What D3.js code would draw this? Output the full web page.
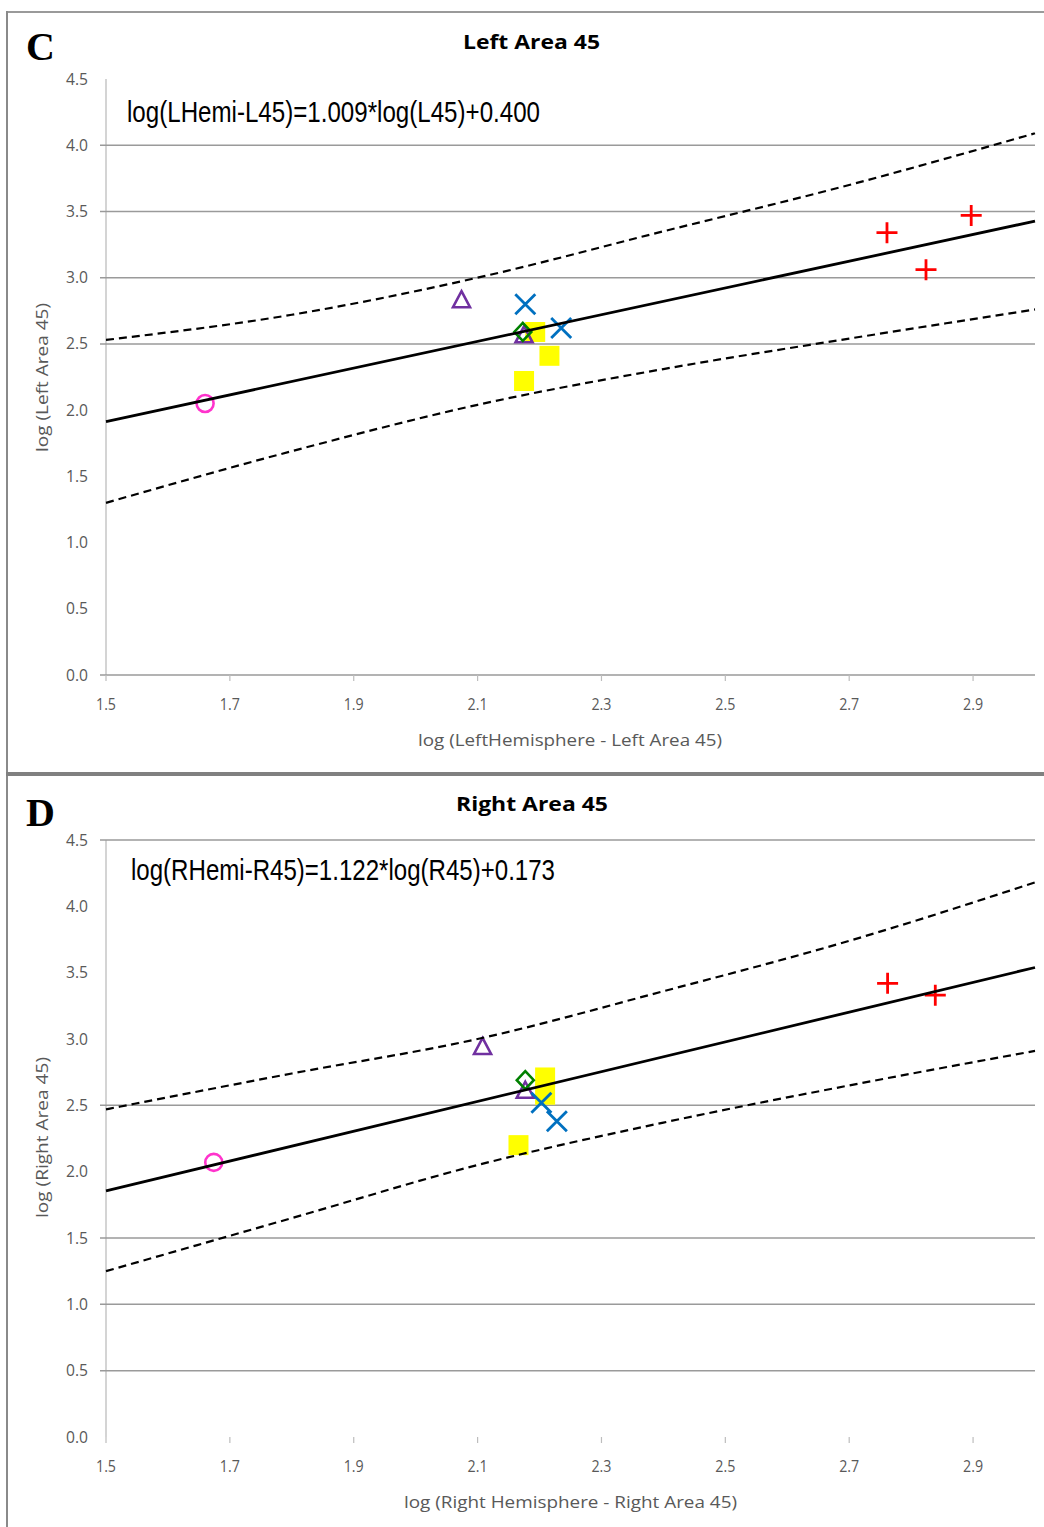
<!DOCTYPE html>
<html>
<head>
<meta charset="utf-8">
<script src="https://cdn.jsdelivr.net/npm/d3@7"></script>
<style>
  body { margin: 0; background: #fff; }
  text { font-family: "Open Sans", Lato, sans-serif; }
</style>
</head>
<body>
<svg id="fig"></svg>
<script>
// axis ticks
const xTicks = [1.5, 1.7, 1.9, 2.1, 2.3, 2.5, 2.7, 2.9];
const yTicks = [0, 0.5, 1, 1.5, 2, 2.5, 3, 3.5, 4, 4.5];
const bandX = [1.5, 1.8, 2.1, 2.4, 2.7, 3.0];

// panel C - left area 45
const circleC   = [[1.660, 2.05]];
const triangleC = [[2.074, 2.83], [2.175, 2.565]];
const squareC   = [[2.193, 2.59], [2.216, 2.41], [2.175, 2.22]];
const diamondC  = [[2.173, 2.59]];
const crossC    = [[2.177, 2.80], [2.235, 2.62]];
const plusC     = [[2.761, 3.34], [2.824, 3.06], [2.897, 3.47]];
const fitC      = [1.009, 0.400];
const upperC    = [2.53, 2.72, 3.00, 3.35, 3.70, 4.09];
const lowerC    = [1.30, 1.69, 2.04, 2.31, 2.54, 2.76];
const gridC     = [0, 2.5, 3, 3.5, 4];

// panel D - right area 45
const circleD   = [[1.674, 2.07]];
const triangleD = [[2.108, 2.94], [2.177, 2.61]];
const squareD   = [[2.209, 2.71], [2.209, 2.58], [2.166, 2.20]];
const diamondD  = [[2.177, 2.69]];
const crossD    = [[2.203, 2.52], [2.228, 2.38]];
const plusD     = [[2.762, 3.42], [2.839, 3.33]];
const fitD      = [1.122, 0.173];
const upperD    = [2.47, 2.74, 3.00, 3.36, 3.74, 4.18];
const lowerD    = [1.25, 1.65, 2.05, 2.37, 2.65, 2.91];
const gridD     = [0.5, 1, 1.5, 2.5, 4.5];

const W = 1044, H = 1527;
const svg = d3.select("#fig").attr("width", W).attr("height", H);

const x = d3.scaleLinear().domain([1.5, 3.0]).range([106, 1035]);

// marker shapes
const shapes = {
  circle:   "M8.5,0A8.5,8.5 0 1,1 -8.5,0A8.5,8.5 0 1,1 8.5,0Z",
  triangle: "M0,-9L8.5,7L-8.5,7Z",
  diamond:  "M0,-9L8.5,0L0,9L-8.5,0Z",
  square:   "M-10,-10h20v20h-20Z",
  cross:    "M-10,-10L10,10M10,-10L-10,10",
  plus:     "M-10.5,0H10.5M0,-10.5V10.5"
};

function txt(g, s, o) {
  const t = g.append("text").text(s)
    .attr("x", o.x).attr("y", o.y)
    .attr("font-size", o.size)
    .attr("fill", o.fill || "#000");
  if (o.weight) t.attr("font-weight", o.weight);
  if (o.family) t.style("font-family", o.family);
  if (o.len) t.attr("textLength", o.len).attr("lengthAdjust", "spacingAndGlyphs");
  if (o.transform) t.attr("transform", o.transform);
  return t;
}

function drawPanel(p) {
  const y = d3.scaleLinear().domain([0, 4.5]).range([p.y0, p.y1]);
  const g = svg.append("g");

  // y axis line
  g.append("line")
    .attr("x1", x(1.5)).attr("x2", x(1.5))
    .attr("y1", y(4.5)).attr("y2", y(0))
    .attr("stroke", "#c6c6c6").attr("stroke-width", 1.5);

  // gridlines (only those visible in the figure)
  g.selectAll("line.grid").data(p.grid).join("line")
    .attr("class", "grid")
    .attr("x1", x(1.5) - 6).attr("x2", x(3.0))
    .attr("y1", d => y(d)).attr("y2", d => y(d))
    .attr("stroke", "#9a9a9a").attr("stroke-width", 1.5);

  // x tick marks
  g.selectAll("line.xt").data(xTicks).join("line")
    .attr("class", "xt")
    .attr("x1", d => x(d)).attr("x2", d => x(d))
    .attr("y1", y(0)).attr("y2", y(0) + 6)
    .attr("stroke", "#bdbdbd").attr("stroke-width", 1.2);

  // tick labels
  g.selectAll("text.yl").data(yTicks).join("text")
    .attr("class", "yl")
    .attr("x", 66).attr("y", d => y(d) + 5.5)
    .attr("font-size", 16).attr("fill", "#595959")
    .attr("textLength", 22).attr("lengthAdjust", "spacingAndGlyphs")
    .text(d => d.toFixed(1));
  g.selectAll("text.xl").data(xTicks).join("text")
    .attr("class", "xl")
    .attr("x", d => x(d) - 10).attr("y", y(0) + 35)
    .attr("font-size", 16).attr("fill", "#595959")
    .attr("textLength", 20).attr("lengthAdjust", "spacingAndGlyphs")
    .text(d => d.toFixed(1));

  // markers
  const series = [
    { data: p.square,   shape: "square",   fill: "#ffff00", stroke: "none",    sw: 0 },
    { data: p.triangle, shape: "triangle", fill: "none",    stroke: "#7030a0", sw: 2.6 },
    { data: p.diamond,  shape: "diamond",  fill: "none",    stroke: "#008000", sw: 2.6 },
    { data: p.cross,    shape: "cross",    fill: "none",    stroke: "#0070c0", sw: 2.8 },
    { data: p.plus,     shape: "plus",     fill: "none",    stroke: "#ff0000", sw: 2.8 },
    { data: p.circle,   shape: "circle",   fill: "none",    stroke: "#ff33cc", sw: 2.6 }
  ];
  series.forEach(s => {
    g.selectAll(null).data(s.data).join("path")
      .attr("d", shapes[s.shape])
      .attr("transform", d => `translate(${x(d[0])},${y(d[1])})`)
      .attr("fill", s.fill).attr("stroke", s.stroke).attr("stroke-width", s.sw);
  });

  // prediction band (dashed)
  const band = d3.line().x(d => x(d[0])).y(d => y(d[1])).curve(d3.curveMonotoneX);
  [p.upper, p.lower].forEach(arr => {
    g.append("path")
      .attr("d", band(bandX.map((v, i) => [v, arr[i]])))
      .attr("fill", "none").attr("stroke", "#000")
      .attr("stroke-width", 2.2).attr("stroke-dasharray", "8,5");
  });

  // regression line
  const ends = [1.5, 3.0].map(v => [v, p.fit[0] * v + p.fit[1]]);
  g.append("path")
    .attr("d", d3.line().x(d => x(d[0])).y(d => y(d[1]))(ends))
    .attr("fill", "none").attr("stroke", "#000").attr("stroke-width", 2.8);

  // texts
  txt(g, p.letter, { x: 26, y: p.letterY, size: 40, weight: "bold",
    family: "'Liberation Serif','DejaVu Serif',serif" });
  txt(g, p.title, { x: p.titleX, y: p.titleY, size: 19.5, weight: "bold", len: p.titleLen });
  txt(g, p.eq, { x: p.eqX, y: p.eqY, size: 30, len: p.eqLen,
    family: "'Liberation Sans Narrow','Arial Narrow','Liberation Sans',sans-serif" });
  txt(g, p.xTitle, { x: p.xTitleX, y: p.xTitleY, size: 17, fill: "#595959", len: p.xTitleLen });
  txt(g, p.yTitle, { x: 0, y: 0, size: 17, fill: "#595959", len: p.yTitleLen,
    transform: `translate(48,${p.yTitleBottom}) rotate(-90)` });
}

// figure frame
svg.append("line").attr("x1", 8).attr("x2", W).attr("y1", 12).attr("y2", 12)
  .attr("stroke", "#9a9a9a").attr("stroke-width", 2);
svg.append("line").attr("x1", 7).attr("x2", 7).attr("y1", 11).attr("y2", H)
  .attr("stroke", "#8a8a8a").attr("stroke-width", 2);
svg.append("line").attr("x1", 6).attr("x2", W).attr("y1", 774).attr("y2", 774)
  .attr("stroke", "#808080").attr("stroke-width", 4);

drawPanel({
  y0: 675, y1: 79, grid: gridC,
  circle: circleC, triangle: triangleC, square: squareC, diamond: diamondC,
  cross: crossC, plus: plusC, fit: fitC, upper: upperC, lower: lowerC,
  letter: "C", letterY: 60,
  title: "Left Area 45", titleX: 463, titleY: 49, titleLen: 137,
  eq: "log(LHemi-L45)=1.009*log(L45)+0.400", eqX: 127, eqY: 122, eqLen: 413,
  xTitle: "log (LeftHemisphere - Left Area 45)", xTitleX: 418, xTitleY: 746, xTitleLen: 304,
  yTitle: "log (Left Area 45)", yTitleBottom: 452, yTitleLen: 149
});

drawPanel({
  y0: 1437, y1: 840, grid: gridD,
  circle: circleD, triangle: triangleD, square: squareD, diamond: diamondD,
  cross: crossD, plus: plusD, fit: fitD, upper: upperD, lower: lowerD,
  letter: "D", letterY: 826,
  title: "Right Area 45", titleX: 456, titleY: 811, titleLen: 152,
  eq: "log(RHemi-R45)=1.122*log(R45)+0.173", eqX: 131, eqY: 880, eqLen: 424,
  xTitle: "log (Right Hemisphere - Right Area 45)", xTitleX: 404, xTitleY: 1508, xTitleLen: 333,
  yTitle: "log (Right Area 45)", yTitleBottom: 1218, yTitleLen: 161
});
</script>
</body>
</html>
